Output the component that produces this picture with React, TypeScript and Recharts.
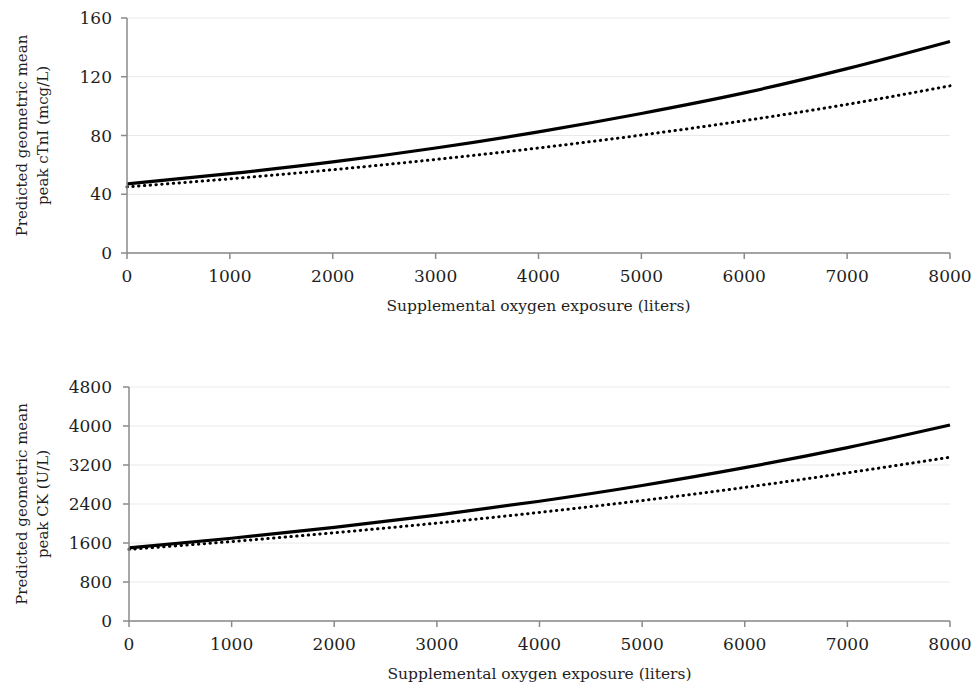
import React from "react";
import { LineChart, Line, XAxis, YAxis, CartesianGrid, Label } from "recharts";

// ── données ────────────────────────────────────────────────────────────────
const oxygenLiters = [0, 1000, 2000, 3000, 4000, 5000, 6000, 7000, 8000];
const ctniSolid = [47, 54, 62, 71.5, 82.5, 95, 109, 125.5, 144];
const ctniDotted = [45, 50.5, 56.7, 63.7, 71.5, 80.3, 90.1, 101.2, 113.8];
const ckSolid = [1500, 1697, 1920, 2172, 2457, 2780, 3145, 3557, 4020];
const ckDotted = [1470, 1630, 1810, 2008, 2228, 2471, 2741, 3040, 3360];

const xTicks = [0, 1000, 2000, 3000, 4000, 5000, 6000, 7000, 8000];
const ctniTicks = [0, 40, 80, 120, 160];
const ckTicks = [0, 800, 1600, 2400, 3200, 4000, 4800];

const FONT = "'DejaVu Serif', 'Liberation Serif', serif";
const TEXT = "#1f1f1f";
const AXIS = "#8a8a8a";

function buildRows(solid: number[], dotted: number[]) {
  return oxygenLiters.map((x, i) => ({ x, solid: solid[i], dotted: dotted[i] }));
}

function YTitle({ viewBox, lines }: { viewBox?: any; lines: string[] }) {
  if (!viewBox) return null;
  const cy = viewBox.y + viewBox.height / 2;
  const cx = 22;
  return (
    <text
      transform={`translate(${cx}, ${cy}) rotate(-90)`}
      textAnchor="middle"
      fontFamily={FONT}
      fontSize={15}
      fill={TEXT}
    >
      <tspan x={0} dy="0.35em">{lines[0]}</tspan>
      <tspan x={0} dy="1.4em">{lines[1]}</tspan>
    </text>
  );
}

interface PanelProps {
  solid: number[];
  dotted: number[];
  ticks: number[];
  titleLines: string[];
  margin: { top: number; right: number; bottom: number; left: number };
  tickMarginY: number;
}

function Panel({ solid, dotted, ticks, titleLines, margin, tickMarginY }: PanelProps) {
  const data = buildRows(solid, dotted);
  const tickStyle = { fontSize: 17, fill: TEXT, fontFamily: FONT };
  return (
    <LineChart width={973} height={342} data={data} margin={margin}>
      <CartesianGrid vertical={false} stroke="#e9e9e9" strokeWidth={1.2} />
      <XAxis
        dataKey="x"
        type="number"
        domain={[0, 8000]}
        ticks={xTicks}
        height={60}
        stroke={AXIS}
        strokeWidth={1.5}
        tickSize={6}
        tickMargin={11}
        tick={tickStyle}
        interval={0}
      >
        <Label
          value="Supplemental  oxygen exposure (liters)"
          position="insideBottom"
          offset={2}
          style={{ fontSize: 15.5, fill: TEXT, fontFamily: FONT }}
        />
      </XAxis>
      <YAxis
        type="number"
        domain={[ticks[0], ticks[ticks.length - 1]]}
        ticks={ticks}
        width={60}
        stroke={AXIS}
        strokeWidth={1.5}
        tickSize={6}
        tickMargin={tickMarginY}
        tick={tickStyle}
        interval={0}
      >
        <Label content={<YTitle lines={titleLines} />} />
      </YAxis>
      <Line
        type="monotone"
        dataKey="solid"
        stroke="#000"
        strokeWidth={3.2}
        dot={false}
        isAnimationActive={false}
      />
      <Line
        type="monotone"
        dataKey="dotted"
        stroke="#000"
        strokeWidth={3}
        strokeLinecap="round"
        strokeDasharray="0.4 5.4"
        dot={false}
        isAnimationActive={false}
      />
    </LineChart>
  );
}

export default function App() {
  return (
    <div style={{ position: "absolute", left: 0, top: 0, width: 973, height: 684, background: "#fff" }}>
      <Panel
        solid={ctniSolid}
        dotted={ctniDotted}
        ticks={ctniTicks}
        titleLines={["Predicted geometric mean", "peak cTnI (mcg/L)"]}
        margin={{ top: 18, right: 23, bottom: 29, left: 67 }}
        tickMarginY={9}
      />
      <Panel
        solid={ckSolid}
        dotted={ckDotted}
        ticks={ckTicks}
        titleLines={["Predicted geometric mean", "peak CK (U/L)"]}
        margin={{ top: 45, right: 23, bottom: 3, left: 69 }}
        tickMarginY={11}
      />
    </div>
  );
}
